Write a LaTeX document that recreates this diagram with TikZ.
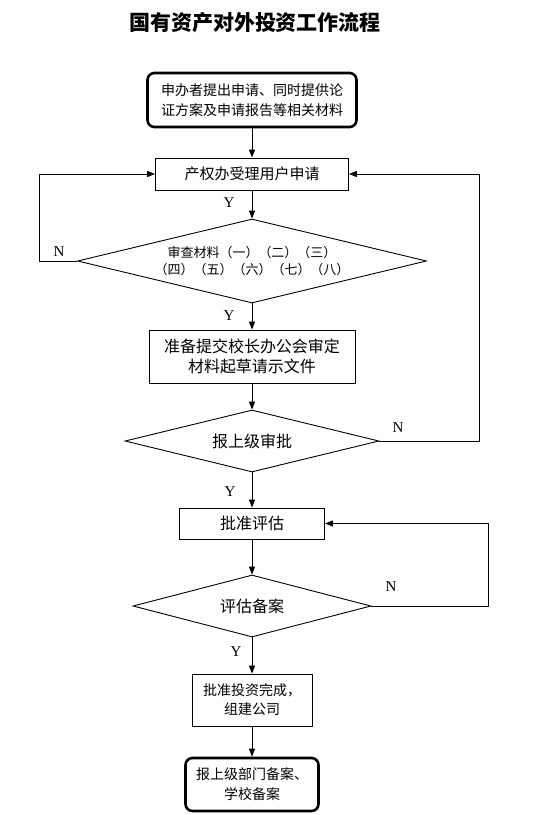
\documentclass[tikz,border=0pt]{standalone}
\usepackage{fontspec}
\setmainfont{Liberation Serif}
\newfontfamily\cjk{Noto Sans CJK SC}
\usetikzlibrary{shapes, arrows.meta, positioning}

\tikzset{
    caja/.style={draw, line width=0.9pt, align=center, inner sep=0pt, font=\cjk\fontsize{15}{20}\selectfont},
    cajafin/.style={caja, line width=2.6pt, rounded corners=7pt, font=\cjk\fontsize{14}{20}\selectfont},
    rombo/.style={draw, diamond, line width=0.9pt, align=center, inner sep=0pt, font=\cjk\fontsize{16}{20}\selectfont},
    flecha/.style={line width=0.9pt, -{Triangle[length=8pt,width=6pt]}},
    etiq/.style={inner sep=0pt, font=\fontsize{15}{15}\selectfont}
}

\begin{document}
\begin{tikzpicture}[x=1pt, y=-1pt]
        \useasboundingbox (0,0) rectangle (557,815);
        % Título
        \node[font=\cjk\bfseries\fontsize{21}{21}\selectfont] (titulo) at (255,23) {国有资产对外投资工作流程};
        % Cajas y rombos del flujo
        \node[cajafin, minimum width=209, minimum height=54] (solicitud) at (252,100) {申办者提出申请、同时提供论\\证方案及申请报告等相关材料};
        \node[caja, minimum width=193, minimum height=32] (acepta) at (252,174) {产权办受理用户申请};
        \node[rombo, aspect=4.15, minimum width=349, minimum height=84, font=\cjk\fontsize{13}{17}\selectfont] (revision) at (252,261) {审查材料（一）（二）（三）\\（四）（五）（六）（七）（八）};
        \node[caja, minimum width=206, minimum height=53, font=\cjk\fontsize{16}{20}\selectfont] (prepara) at (252,356.5) {准备提交校长办公会审定\\材料起草请示文件};
        \node[rombo, aspect=4.1, minimum width=254, minimum height=62] (informe) at (252,441) {报上级审批};
        \node[caja, minimum width=145, minimum height=31, font=\cjk\fontsize{16}{20}\selectfont] (evalua) at (252,523.5) {批准评估};
        \node[rombo, aspect=3.84, minimum width=238, minimum height=62] (registro) at (252,606) {评估备案};
        \node[caja, minimum width=120, minimum height=52, font=\cjk\fontsize{14}{19}\selectfont] (completa) at (252,700) {批准投资完成，\\组建公司};
        \node[cajafin, minimum width=133, minimum height=53] (archivo) at (252,784.5) {报上级部门备案、\\学校备案};
        % Flechas principales
        \draw[flecha] (solicitud.south) -- (acepta.north);
        \draw[flecha] (acepta.south) -- (revision.north);
        \draw[flecha] (revision.south) -- (prepara.north);
        \draw[flecha] (prepara.south) -- (informe.north);
        \draw[flecha] (informe.south) -- (evalua.north);
        \draw[flecha] (evalua.south) -- (registro.north);
        \draw[flecha] (registro.south) -- (completa.north);
        \draw[flecha] (completa.south) -- (archivo.north);
        % Retornos
        \draw[flecha] (revision.west) -- ++(-38,0) |- (acepta.west);
        \draw[flecha] (informe.east) -- ++(100,0) |- (acepta.east);
        \draw[flecha] (registro.east) -- ++(117,0) |- (evalua.east);
        % Etiquetas Y / N
        \node[etiq] (y1) at (229,203) {Y};
        \node[etiq] (y2) at (229,316) {Y};
        \node[etiq] (y3) at (230,492) {Y};
        \node[etiq] (y4) at (236,652) {Y};
        \node[etiq] (n1) at (59,252) {N};
        \node[etiq] (n2) at (398,428) {N};
        \node[etiq] (n3) at (391,587) {N};
    \end{tikzpicture}
\end{document}
